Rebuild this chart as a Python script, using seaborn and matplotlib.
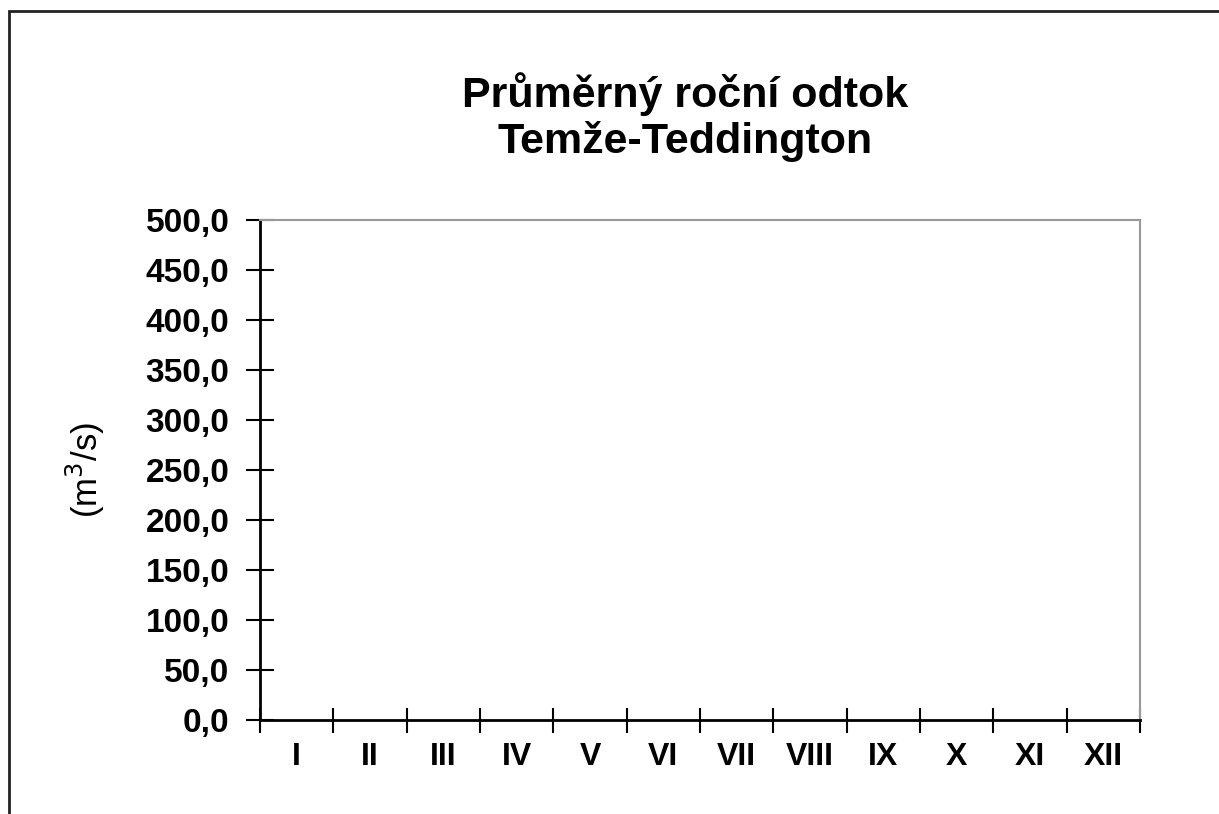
import numpy as np
import matplotlib
matplotlib.use("Agg")
import matplotlib.pyplot as plt
from matplotlib.patches import Rectangle
import seaborn as sns

# data (chart is empty in the source: no values plotted)
months = ["I", "II", "III", "IV", "V", "VI", "VII", "VIII", "IX", "X", "XI", "XII"]
flow = [0.0, 0.0, 0.0, 0.0, 0.0, 0.0, 0.0, 0.0, 0.0, 0.0, 0.0, 0.0]
y_ticks = [0, 50, 100, 150, 200, 250, 300, 350, 400, 450, 500]
y_ticklabels = ["0,0", "50,0", "100,0", "150,0", "200,0", "250,0",
                "300,0", "350,0", "400,0", "450,0", "500,0"]
title = "Průměrný roční odtok\nTemže-Teddington"
ylabel = "(m$^3$/s)"

sns.set_style("ticks")
plt.rcParams["font.family"] = ["Liberation Sans", "DejaVu Sans"]
plt.rcParams["text.color"] = "black"
plt.rcParams["axes.labelcolor"] = "black"
plt.rcParams["xtick.color"] = "black"
plt.rcParams["ytick.color"] = "black"

fig = plt.figure(figsize=(12.19, 8.14), dpi=100)
ax = fig.add_axes([260/1219, 1 - 720/814, 880/1219, 500/814])

sns.barplot(x=months, y=flow, ax=ax, color="#4f81bd", linewidth=0)

# category boundaries as ticks, labels in between
n = len(months)
ax.set_xlim(-0.5, n - 0.5)
ax.set_xticks(np.arange(n + 1) - 0.5)
ax.set_xticklabels([""] * (n + 1))
ax.set_xticks(np.arange(n), minor=True)
ax.set_xticklabels(months, minor=True, fontsize=23, fontweight="bold")
ax.tick_params(axis="x", which="major", direction="inout", length=18, width=1.5)
ax.tick_params(axis="x", which="minor", length=0, pad=16)

ax.set_ylim(0, 500)
ax.set_yticks(y_ticks)
ax.set_yticklabels(y_ticklabels, fontsize=24, fontweight="bold")
ax.tick_params(axis="y", direction="inout", length=20, width=1.5, pad=12)

ax.set_xlabel("")
ax.set_ylabel(ylabel, fontsize=25, labelpad=28)

for s in ["left", "bottom"]:
    ax.spines[s].set_color("black")
    ax.spines[s].set_linewidth(2)
for s in ["top", "right"]:
    ax.spines[s].set_visible(True)
    ax.spines[s].set_color("#999999")
    ax.spines[s].set_linewidth(1.5)

fig.text(685/1219, 1 - 153/814, title, ha="center", va="baseline",
         fontsize=31, fontweight="bold", linespacing=1.15)

# outer chart-area border (cut off on right/bottom in the source)
fig.patches.append(Rectangle((9/1219, -0.5), 2.0, 1 - 11/814 + 0.5,
                             transform=fig.transFigure, fill=False,
                             edgecolor="#222222", linewidth=2))

fig.savefig("out.png", dpi=100)
